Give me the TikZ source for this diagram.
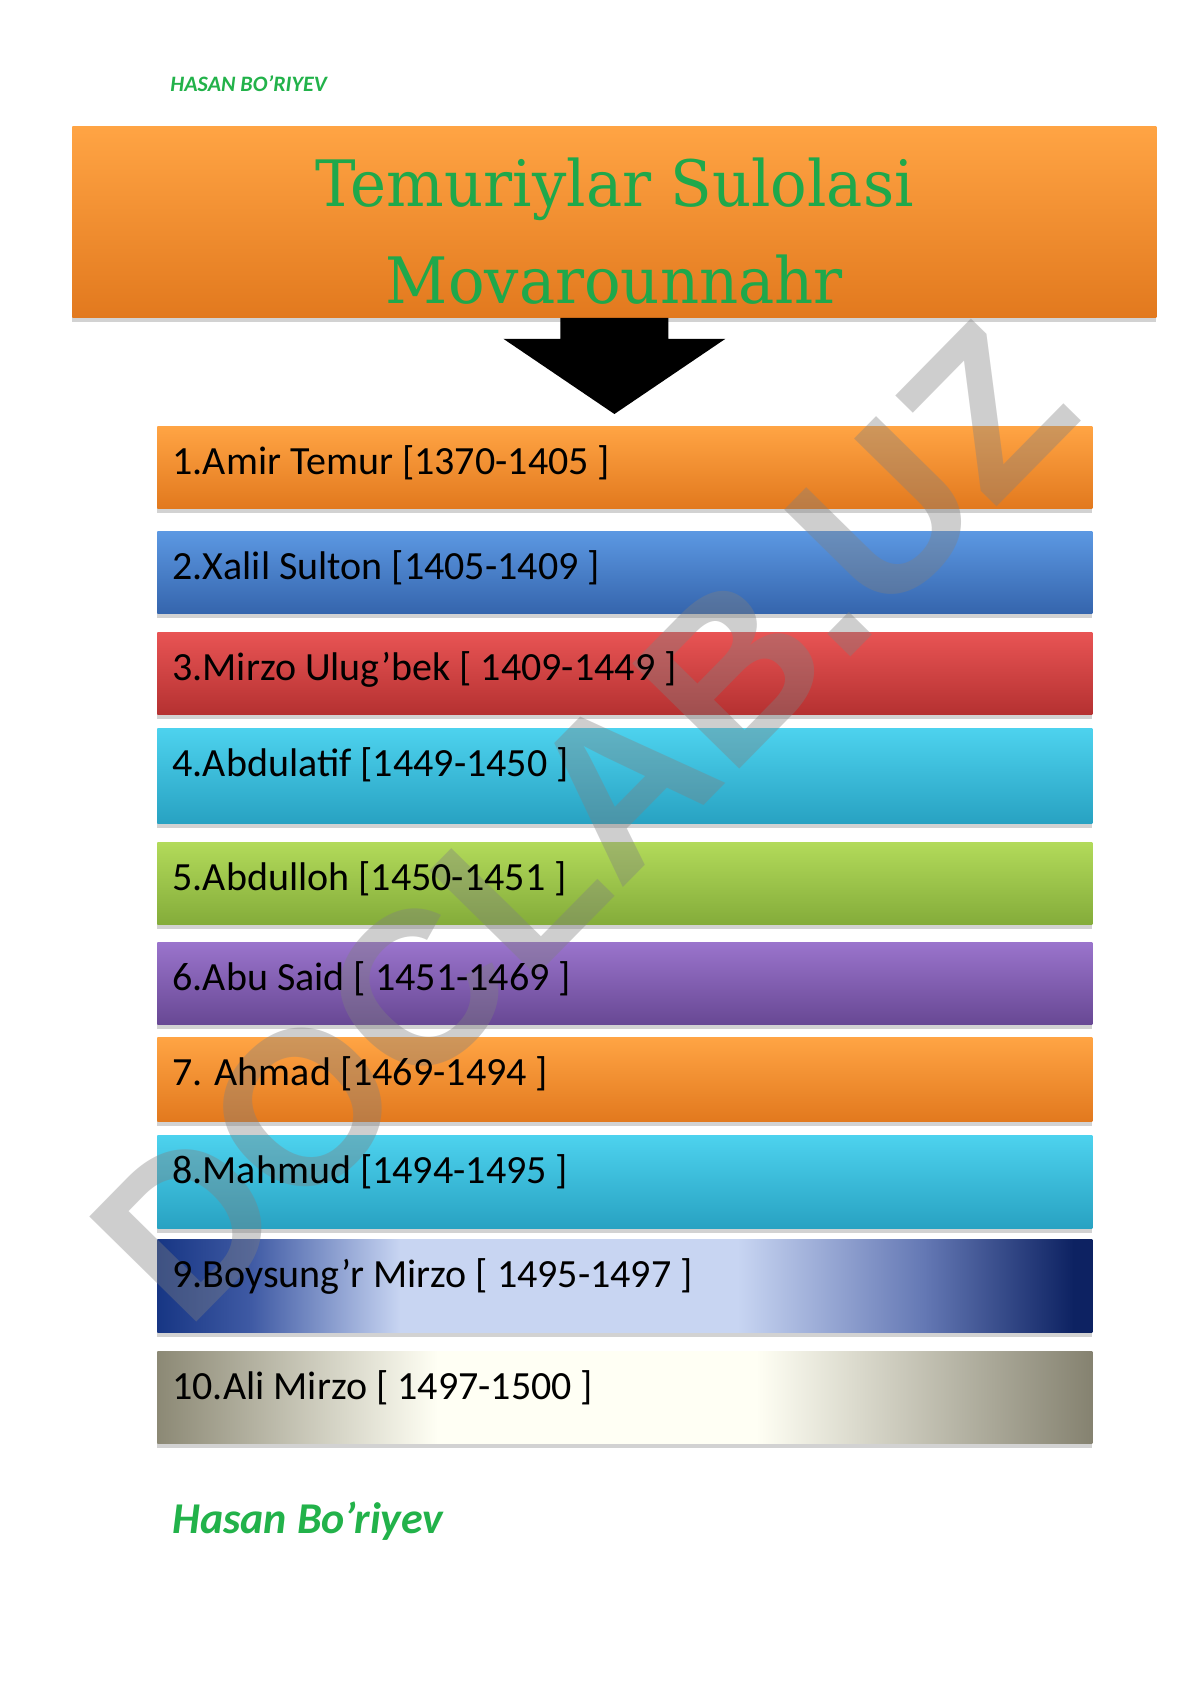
\documentclass[tikz,border=0pt]{standalone}
\usepackage{fontspec}
\setmainfont{Carlito}
\newfontfamily\titlefont[FakeStretch=0.95]{DejaVu Serif}
\newfontfamily\markfont{Liberation Sans}
\usetikzlibrary{shadows,calc}

\definecolor{orTop}{HTML}{FFA444}
\definecolor{orMid}{HTML}{F89430}
\definecolor{orBot}{HTML}{E2791E}
\definecolor{blTop}{HTML}{5C98E2}
\definecolor{blMid}{HTML}{4785D4}
\definecolor{blBot}{HTML}{3565AD}
\definecolor{rdTop}{HTML}{E85454}
\definecolor{rdMid}{HTML}{D94444}
\definecolor{rdBot}{HTML}{B53131}
\definecolor{cyTop}{HTML}{4DD2EE}
\definecolor{cyMid}{HTML}{39BFE0}
\definecolor{cyBot}{HTML}{28A2C2}
\definecolor{grTop}{HTML}{B2DA5A}
\definecolor{grMid}{HTML}{9DC84A}
\definecolor{grBot}{HTML}{84AC3A}
\definecolor{puTop}{HTML}{9A74CC}
\definecolor{puMid}{HTML}{8260B2}
\definecolor{puBot}{HTML}{684894}
\definecolor{navyL}{HTML}{173684}
\definecolor{navyR}{HTML}{0D2262}
\definecolor{paleB}{HTML}{C8D5F2}
\definecolor{navyLm}{HTML}{3F5AA4}
\definecolor{navyRm}{HTML}{6478B4}
\definecolor{stoneL}{HTML}{8C8975}
\definecolor{stoneR}{HTML}{858270}
\definecolor{paleS}{HTML}{FFFFF4}
\definecolor{titlegreen}{HTML}{1FA84B}
\definecolor{signgreen}{HTML}{22B24A}

\pgfdeclarehorizontalshading{boysung}{100bp}{color(0bp)=(navyL); color(25bp)=(navyL); color(30bp)=(navyLm); color(38bp)=(paleB); color(56bp)=(paleB); color(66bp)=(navyRm); color(74bp)=(navyR); color(100bp)=(navyR)}
\pgfdeclarehorizontalshading{alimirzo}{100bp}{color(0bp)=(stoneL); color(25bp)=(stoneL); color(40bp)=(paleS); color(57bp)=(paleS); color(75bp)=(stoneR); color(100bp)=(stoneR)}

\begin{document}
\begin{tikzpicture}[x=0.5pt, y=-0.5pt,
	bar/.style={rectangle, anchor=north west, minimum width=467.5pt, inner sep=0pt,
		drop shadow={shadow xshift=0pt, shadow yshift=-2.5pt, opacity=.35}},
	orangebar/.style={top color=orTop, middle color=orMid, bottom color=orBot},
	bluebar/.style={top color=blTop, middle color=blMid, bottom color=blBot},
	redbar/.style={top color=rdTop, middle color=rdMid, bottom color=rdBot},
	cyanbar/.style={top color=cyTop, middle color=cyMid, bottom color=cyBot},
	greenbar/.style={top color=grTop, middle color=grMid, bottom color=grBot},
	purplebar/.style={top color=puTop, middle color=puMid, bottom color=puBot},
	reign/.style={anchor=base west, inner sep=0pt, font=\fontsize{20}{24}\selectfont},
	titleline/.style={anchor=base, inner sep=0pt, text=titlegreen, font=\titlefont\fontsize{32}{36}\selectfont},
	sign/.style={anchor=base west, inner sep=0pt, text=signgreen, font=\bfseries\itshape},
	watermark/.style={rotate=45.5, text=gray, text opacity=.38, font=\markfont\bfseries\fontsize{109}{109}\selectfont},
	]
	
	\useasboundingbox[fill=white] (0,0) rectangle (1190,1683);
	
	%-----------------------
	% Top signature
	%-----------------------
	\node[sign, font=\bfseries\itshape\fontsize{11}{13}\selectfont] (head) at (170,91) {HASAN BO’RIYEV};
	
	%-----------------------
	% Title box
	%-----------------------
	\node[bar, orangebar, minimum width=542pt, minimum height=95.5pt] (title) at (72,126) {};
	\node[titleline] (t1) at ([yshift=-40pt]title.north) {Temuriylar Sulolasi};
	\node[titleline] (t2) at ([yshift=-88.5pt]title.north) {Movarounnahr};
	
	%-----------------------
	% Bars
	%-----------------------
	\node[bar, orangebar, minimum height=41pt]   (b1)  at (157,426)  {};
	\node[bar, bluebar,   minimum height=41pt]   (b2)  at (157,531)  {};
	\node[bar, redbar,    minimum height=41pt]   (b3)  at (157,632)  {};
	\node[bar, cyanbar,   minimum height=47.5pt] (b4)  at (157,728)  {};
	\node[bar, greenbar,  minimum height=41pt]   (b5)  at (157,842)  {};
	\node[bar, purplebar, minimum height=41pt]   (b6)  at (157,942)  {};
	\node[bar, orangebar, minimum height=42pt]   (b7)  at (157,1037) {};
	\node[bar, cyanbar,   minimum height=46.5pt] (b8)  at (157,1135) {};
	\node[bar, shading=boysung,  minimum height=46.5pt] (b9)  at (157,1239) {};
	\node[bar, shading=alimirzo, minimum height=46pt]   (b10) at (157,1351) {};
	
	% watermark over the bars, under the names
	\node[watermark] (wm) at (583,822) {DOCLAB.UZ};
	
	%-----------------------
	% Rulers
	%-----------------------
	\node[reign] (r1)  at ([xshift=7.5pt,yshift=-24pt]b1.north west)  {1.Amir Temur [1370-1405 ]};
	\node[reign] (r2)  at ([xshift=7.5pt,yshift=-24pt]b2.north west)  {2.Xalil Sulton [1405-1409 ]};
	\node[reign] (r3)  at ([xshift=7.5pt,yshift=-24pt]b3.north west)  {3.Mirzo Ulug’bek [ 1409-1449 ]};
	\node[reign] (r4)  at ([xshift=7.5pt,yshift=-24pt]b4.north west)  {4.Abdulatif [1449-1450 ]};
	\node[reign] (r5)  at ([xshift=7.5pt,yshift=-24pt]b5.north west)  {5.Abdulloh [1450-1451 ]};
	\node[reign] (r6)  at ([xshift=7.5pt,yshift=-24pt]b6.north west)  {6.Abu Said [ 1451-1469 ]};
	\node[reign] (r7)  at ([xshift=7.5pt,yshift=-24pt]b7.north west)  {7. Ahmad [1469-1494 ]};
	\node[reign] (r8)  at ([xshift=7.5pt,yshift=-24pt]b8.north west)  {8.Mahmud [1494-1495 ]};
	\node[reign] (r9)  at ([xshift=7.5pt,yshift=-24pt]b9.north west)  {9.Boysung’r Mirzo [ 1495-1497 ]};
	\node[reign] (r10) at ([xshift=7.5pt,yshift=-24pt]b10.north west) {10.Ali Mirzo [ 1497-1500 ]};
	
	%-----------------------
	% Block arrow
	%-----------------------
	\path (title.south) ++(0,21) coordinate (neck);
	\fill ([xshift=-27pt]title.south) -- ([xshift=-27pt]neck) -- ([xshift=-55.5pt]neck)
		-- ([yshift=6pt]title.south |- b1.north)
		-- ([xshift=55.5pt]neck) -- ([xshift=27pt]neck) -- ([xshift=27pt]title.south) -- cycle;
	
	%-----------------------
	% Bottom signature
	%-----------------------
	\node[sign, font=\bfseries\itshape\fontsize{22}{26}\selectfont] (foot) at (172,1533) {Hasan Bo’riyev};
	
\end{tikzpicture}
\end{document}
